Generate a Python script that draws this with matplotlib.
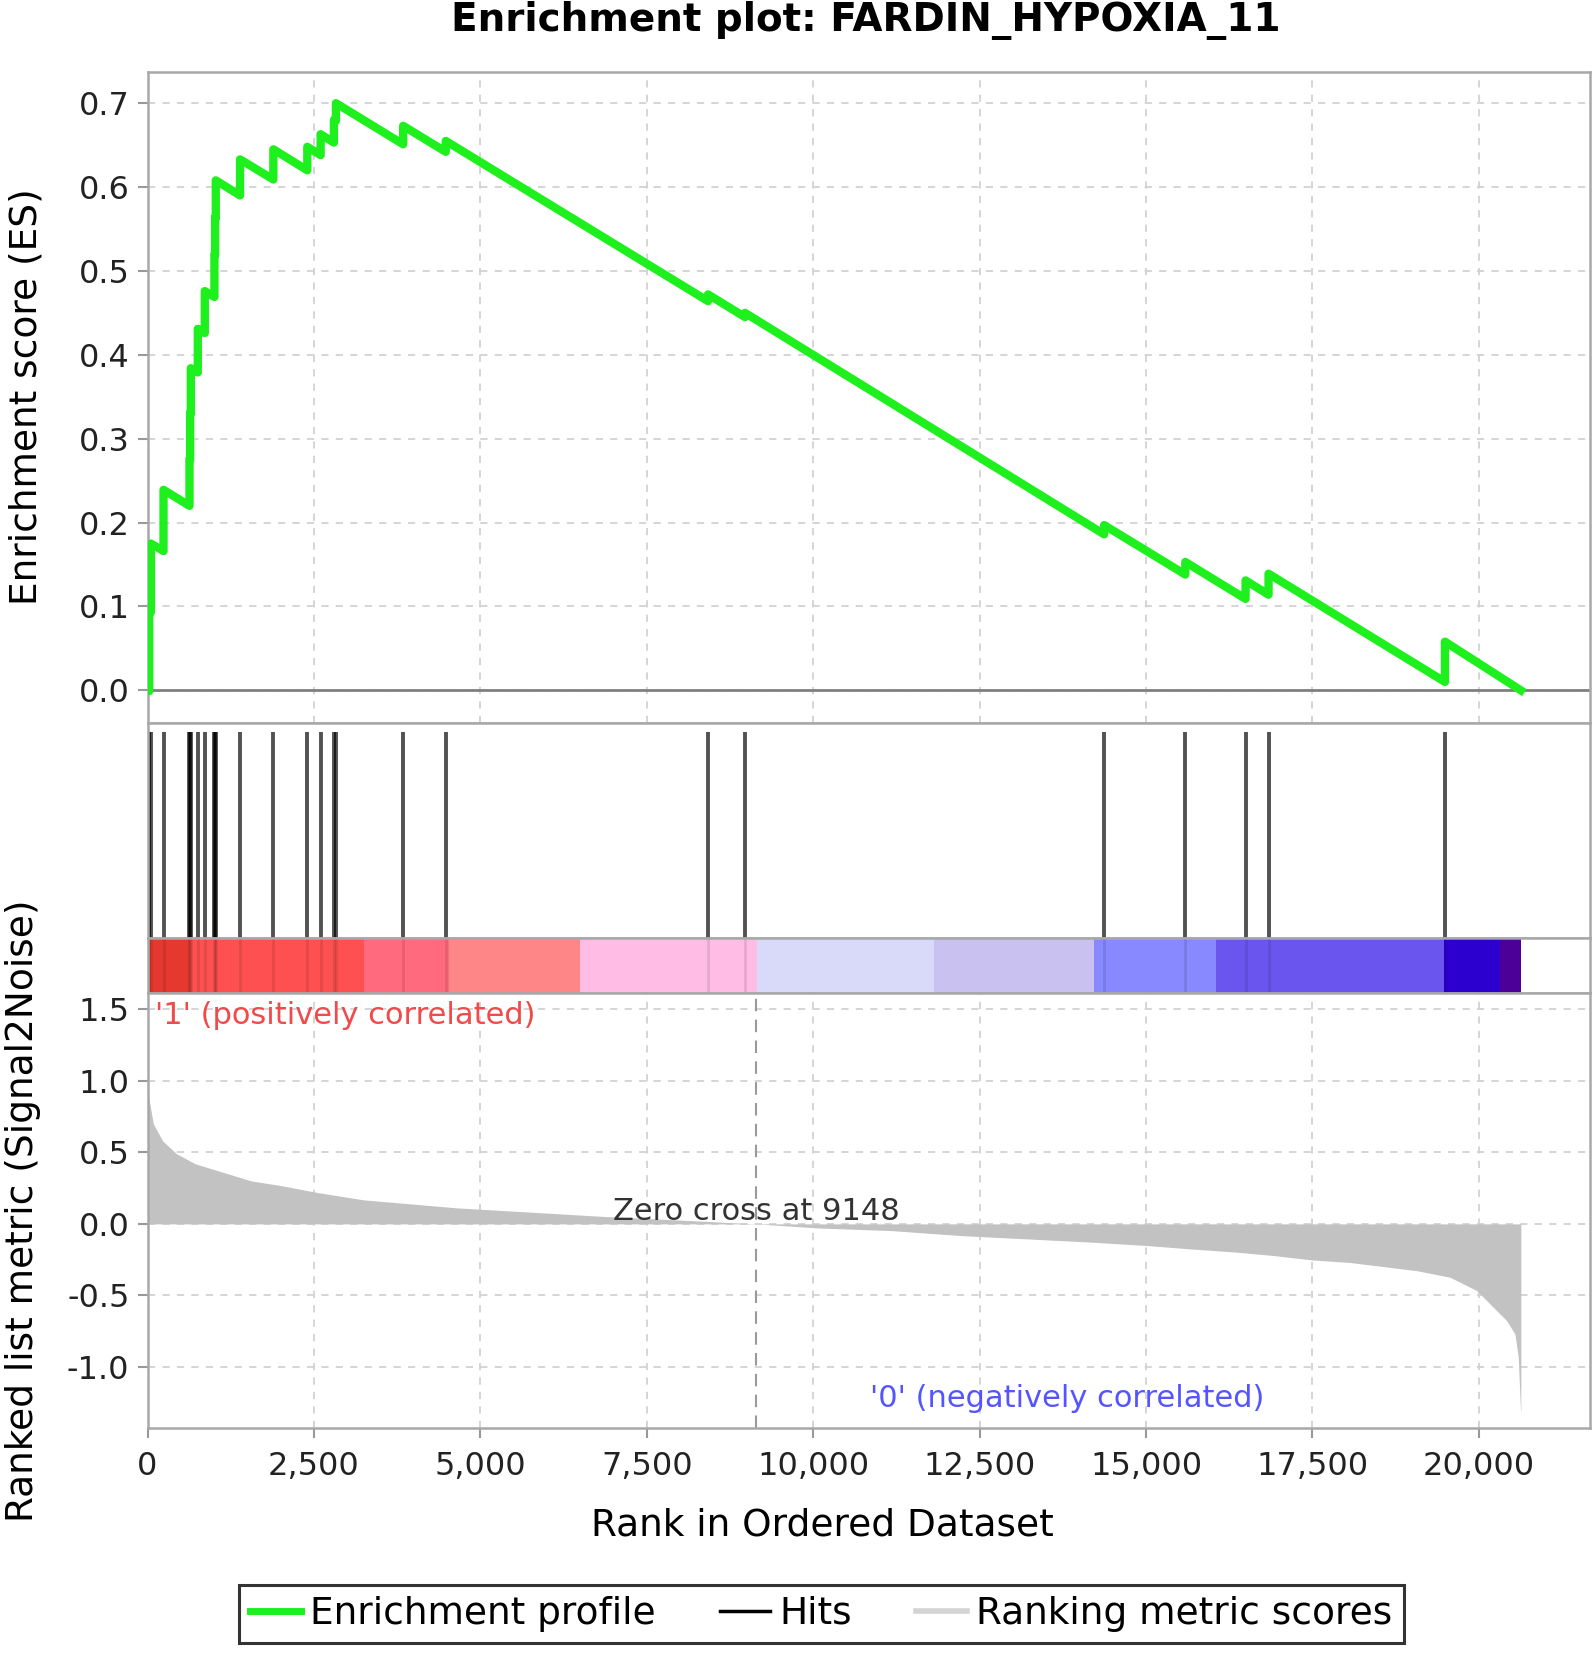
import matplotlib
matplotlib.use('Agg')
import matplotlib.pyplot as plt
from matplotlib.lines import Line2D
from matplotlib.ticker import FuncFormatter, MultipleLocator

plt.rcParams['font.family'] = 'DejaVu Sans'
plt.rcParams['axes.unicode_minus'] = False

# running enrichment score, vertices (rank, ES)
es_rank = [0, 25, 25, 50, 50, 240, 240, 630, 630, 640, 640, 650, 650, 755, 755, 860, 860,
           1005, 1005, 1015, 1015, 1025, 1025, 1390, 1390, 1890, 1890, 2400, 2400,
           2600, 2600, 2800, 2800, 2830, 2830, 3840, 3840, 4480, 4480, 8420, 8420,
           8975, 8975, 14370, 14370, 15590, 15590, 16495, 16495, 16840, 16840,
           19490, 19490, 20630]
es_value = [0.0, -0.001, 0.094, 0.093, 0.175, 0.166, 0.239, 0.220, 0.276, 0.275, 0.331, 0.330, 0.384,
            0.379, 0.431, 0.426, 0.476, 0.469, 0.520, 0.519, 0.564, 0.563, 0.608,
            0.590, 0.633, 0.609, 0.645, 0.620, 0.648, 0.638, 0.663, 0.653, 0.680,
            0.679, 0.700, 0.651, 0.673, 0.642, 0.655, 0.464, 0.472, 0.445, 0.450,
            0.186, 0.197, 0.138, 0.153, 0.109, 0.131, 0.114, 0.139, 0.010, 0.058, 0.0]

# gene set members in the ranked list
hit_ranks = [25, 50, 240, 630, 640, 650, 755, 860, 1005, 1015, 1025, 1390, 1890, 2400,
             2600, 2800, 2830, 3840, 4480, 8420, 8975, 14370, 15590, 16495, 16840, 19490]

# ranked list metric (Signal2Noise)
metric_rank = [0, 87, 227, 437, 718, 1139, 1561, 1981, 2543, 3245, 3946, 4648, 5350, 6051,
               6893, 8157, 9148, 10051, 11175, 12227, 13210, 14193, 15034, 15666, 16368,
               16929, 17490, 18063, 19064, 19565, 19966, 20216, 20416, 20541, 20591, 20626, 20630]
metric_value = [0.93, 0.70, 0.58, 0.49, 0.42, 0.36, 0.30, 0.27, 0.22, 0.168, 0.14, 0.112,
                0.093, 0.074, 0.051, 0.023, 0.0, -0.028, -0.047, -0.082, -0.105, -0.128,
                -0.152, -0.175, -0.198, -0.222, -0.252, -0.27, -0.327, -0.373, -0.466,
                -0.583, -0.676, -0.77, -0.93, -1.31, -1.31]

# heat bar bands
band_edges = [0, 640, 3250, 4530, 6500, 9150, 11810, 14220, 16050, 19470, 20310, 20630]
band_colors = ['#e5392f', '#fe5050', '#ff6a7e', '#ff8686', '#ffbde6', '#d9d9fa',
               '#c9c1f0', '#8888ff', '#6a56ee', '#2c00cf', '#4c0098']

zero_cross = 9148
n_genes = 21670

green = '#1ef01e'
spine_c = '#a8a8a8'
grid_kw = dict(color='#d2d2d2', ls=(0, (4, 4)), lw=1.3)

fig = plt.figure(figsize=(15.95, 16.53), dpi=100)
L, W = 0.0925, 0.9044
ax_es = fig.add_axes([L, 0.5626, W, 0.394])
ax_hit = fig.add_axes([L, 0.4325, W, 0.1301], sharex=ax_es)
ax_bar = fig.add_axes([L, 0.3993, W, 0.0333], sharex=ax_es)
ax_met = fig.add_axes([L, 0.1359, W, 0.2634], sharex=ax_es)

for ax in (ax_es, ax_hit, ax_bar, ax_met):
    for s in ax.spines.values():
        s.set_color(spine_c)
        s.set_linewidth(1.8)
    ax.tick_params(axis='x', length=0, labelbottom=False)
    ax.tick_params(axis='y', length=7, width=1.5, color='#999999', pad=6,
                   labelsize=23, labelcolor='#222222')

# enrichment profile
ax_es.set_xlim(0, n_genes)
ax_es.set_ylim(-0.039, 0.7375)
ax_es.grid(True, **grid_kw)
ax_es.xaxis.set_major_locator(MultipleLocator(2500))
ax_es.yaxis.set_major_locator(MultipleLocator(0.1))
ax_es.yaxis.set_major_formatter(FuncFormatter(lambda v, p: f'{v:.1f}'))
ax_es.axhline(0, color='#808080', lw=2, zorder=2)
ax_es.plot(es_rank, es_value, color=green, lw=6, zorder=3)
ax_es.set_axisbelow(True)

# hits
ax_hit.set_ylim(0, 1)
ax_hit.set_yticks([])
ax_hit.vlines(hit_ranks, 0, 0.96, color='black', alpha=0.68, lw=2.8)

# heat bar
ax_bar.set_ylim(0, 1)
ax_bar.set_yticks([])
for i, c in enumerate(band_colors):
    ax_bar.axvspan(band_edges[i], band_edges[i + 1], color=c, lw=0)
ax_bar.vlines(hit_ranks, 0, 1, color='black', alpha=0.1, lw=2)

# ranked list metric
ax_met.set_ylim(-1.43, 1.615)
ax_met.grid(True, **grid_kw)
ax_met.set_axisbelow(True)
ax_met.yaxis.set_major_locator(MultipleLocator(0.5))
ax_met.yaxis.set_major_formatter(FuncFormatter(lambda v, p: f'{v:.1f}'))
ax_met.fill_between(metric_rank, 0, metric_value, color='#c2c2c2', lw=0, zorder=2)
ax_met.axvline(zero_cross, color='#9a9a9a', ls=(0, (6, 4)), lw=1.5, zorder=2)
ax_met.tick_params(axis='x', length=7, width=1.5, color='#999999', pad=9,
                   labelbottom=True, labelsize=23, labelcolor='#222222')
ax_met.xaxis.set_major_formatter(FuncFormatter(lambda v, p: f'{v:,.0f}'))
ax_met.text(111, 1.46, "'1' (positively correlated)", color='#f04a4a', fontsize=22,
            ha='left', va='center')
ax_met.text(10852, -1.22, "'0' (negatively correlated)", color='#5555ff', fontsize=22,
            ha='left', va='center')
ax_met.text(zero_cross, 0.09, f'Zero cross at {zero_cross}', color='#333333', fontsize=22,
            ha='center', va='center', zorder=4)

# titles and labels
fig.text(0.543, 1 - 21 / 1653, 'Enrichment plot: FARDIN_HYPOXIA_11', ha='center', va='center',
         fontsize=28, fontweight='bold')
fig.text(0.0166, 0.7598, 'Enrichment score (ES)', rotation=90, ha='center', va='center', fontsize=27)
fig.text(0.0144, 0.2675, 'Ranked list metric (Signal2Noise)', rotation=90, ha='center',
         va='center', fontsize=27)
fig.text(0.5154, 0.0771, 'Rank in Ordered Dataset', ha='center', va='center', fontsize=27)

handles = [Line2D([], [], color=green, lw=5),
           Line2D([], [], color='black', lw=2.5),
           Line2D([], [], color='#d4d4d4', lw=4)]
leg = fig.legend(handles, ['Enrichment profile', 'Hits', 'Ranking metric scores'],
                 loc='center', bbox_to_anchor=(0.515, 0.0236), ncol=3, fontsize=27,
                 frameon=True, fancybox=False, edgecolor='black', handlelength=1.35,
                 handletextpad=0.25, columnspacing=1.7, borderpad=0.3, borderaxespad=0)
leg.get_frame().set_linewidth(2.2)

fig.savefig('out.png', dpi=100)
